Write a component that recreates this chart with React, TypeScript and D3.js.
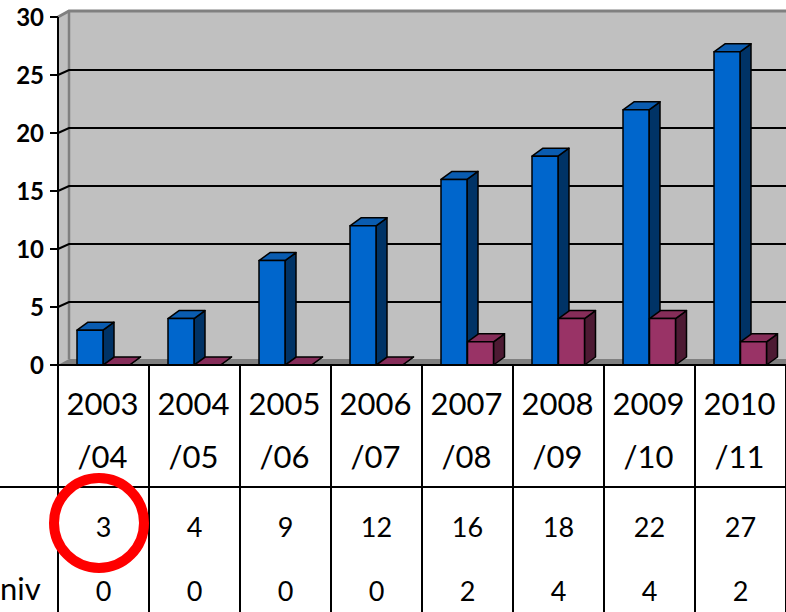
import * as d3 from 'd3';

// data
const categories = ['2003/04', '2004/05', '2005/06', '2006/07', '2007/08', '2008/09', '2009/10', '2010/11'];
const seriesA = [3, 4, 9, 12, 16, 18, 22, 27];
const seriesB = [0, 0, 0, 0, 2, 4, 4, 2];
const yTicks = [0, 5, 10, 15, 20, 25, 30];
const rowLabelB = 'niv';

const W = 786;
const H = 612;

const faces = {
  A: { front: '#0066cc', top: '#0a5cb0', side: '#003366' },
  B: { front: '#993366', top: '#862d59', side: '#4d1a33' },
};

export default function App() {
  const x = d3.scaleBand<string>().domain(categories).range([58, 786]).paddingInner(0);
  const y = d3.scaleLinear().domain([0, 30]).range([365, 17]);
  const bw = 26;
  const depth = { dx: 11, dy: -8 };
  const wall = { dx: 11, dy: -5 };
  const y0 = y(0);

  const bar = (cx: number, v: number, c: { front: string; top: string; side: string }, key: string) => {
    const yt = y(v);
    const x2 = cx + bw;
    const { dx, dy } = depth;
    return (
      <g key={key} stroke="#000" strokeWidth={1.5} strokeLinejoin="round">
        <polygon points={`${x2},${yt} ${x2 + dx},${yt + dy} ${x2 + dx},${y0 + dy} ${x2},${y0}`} fill={c.side} />
        <polygon points={`${cx},${yt} ${cx + dx},${yt + dy} ${x2 + dx},${yt + dy} ${x2},${yt}`} fill={c.top} />
        {v > 0 && <rect x={cx} y={yt} width={bw} height={y0 - yt} fill={c.front} />}
      </g>
    );
  };

  const rowSep = 487;

  return (
    <svg width={W} height={H} style={{ position: 'absolute', left: 0, top: 0, display: 'block' }}
      fontFamily="Lato, 'Open Sans', sans-serif">
      <rect width={W} height={H} fill="#fff" />

      {/* walls */}
      <polygon points={`58,${y(30)} ${58 + wall.dx},${y(30) - 7} ${W + 20},${y(30) - 7} ${W + 20},${y0} 58,${y0}`} fill="#c0c0c0" />
      <polygon points={`58,${y0} ${58 + wall.dx},${y0 + wall.dy - 1} ${W + 20},${y0 + wall.dy - 1} ${W + 20},${y0}`} fill="#808080" />
      <line x1={58 + wall.dx} x2={58 + wall.dx} y1={y(30) - 7} y2={y0 + wall.dy - 1} stroke="#808080" strokeWidth={2.5} />
      <polyline points={`58,${y(30)} ${58 + wall.dx},${y(30) - 6} ${W + 20},${y(30) - 6}`} fill="none" stroke="#808080" strokeWidth={3} />

      {/* gridlines */}
      {yTicks.filter(t => t > 0 && t < 30).map(t => (
        <polyline key={t} points={`58,${y(t)} ${58 + wall.dx},${y(t) + wall.dy} ${W + 20},${y(t) + wall.dy}`}
          fill="none" stroke="#000" strokeWidth={2} />
      ))}

      {/* bars */}
      {categories.map((c, i) => {
        const cx = x(c)! + x.bandwidth() / 2 - 0.5;
        return (
          <g key={c}>
            {bar(cx - bw, seriesA[i], faces.A, 'a')}
            {bar(cx + 0.5, seriesB[i], faces.B, 'b')}
          </g>
        );
      })}

      {/* axis */}
      <line x1={58} x2={58} y1={y(30)} y2={H} stroke="#000" strokeWidth={2} />
      <line x1={50} x2={W} y1={y0} y2={y0} stroke="#000" strokeWidth={2} />
      {yTicks.map(t => (
        <g key={t}>
          <line x1={50} x2={58} y1={y(t)} y2={y(t)} stroke="#000" strokeWidth={2} />
          <text x={44} y={y(t) + 9} textAnchor="end" fontSize={24} fontWeight="bold" fill="#000">{t}</text>
        </g>
      ))}

      {/* data table */}
      <line x1={0} x2={W} y1={rowSep} y2={rowSep} stroke="#000" strokeWidth={2} />
      {categories.map(c => (
        <line key={c} x1={x(c)! + x.bandwidth()} x2={x(c)! + x.bandwidth()} y1={y0} y2={H} stroke="#000" strokeWidth={2} />
      ))}
      {categories.map((c, i) => {
        const cx = x(c)! + x.bandwidth() / 2;
        const [a, b] = c.split('/');
        return (
          <g key={c} fill="#000" textAnchor="middle">
            <text x={cx - 1} y={415} fontSize={31}>{a}</text>
            <text x={cx - 1} y={468} fontSize={31}>/{b}</text>
            <text x={cx} y={537} fontSize={27}>{seriesA[i]}</text>
            <text x={cx} y={601} fontSize={27}>{seriesB[i]}</text>
          </g>
        );
      })}
      <text x={0} y={600} fontSize={31} fill="#000">{rowLabelB}</text>

      {/* highlight */}
      <circle cx={99} cy={523} r={45} fill="none" stroke="#ff0000" strokeWidth={10} />
    </svg>
  );
}
